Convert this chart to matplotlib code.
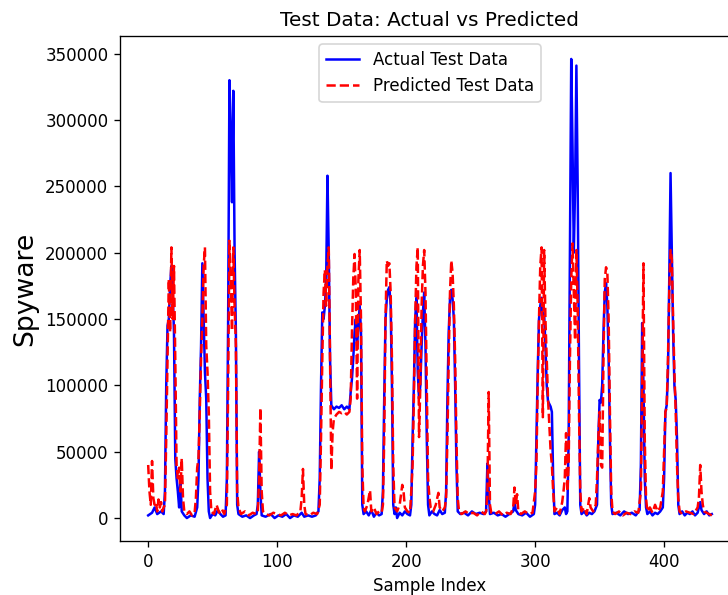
import numpy as np
import matplotlib

matplotlib.use("Agg")
import matplotlib.pyplot as plt

# (sample index, value)
actual_points = [
    (0, 2000), (3, 4000), (5, 8000), (7, 3000), (10, 5000), (12, 3000), (13, 20000), (14, 100000),
    (15, 145000), (16, 150000), (17, 175000), (18, 190000), (19, 170000), (20, 140000), (21, 45000),
    (22, 30000), (23, 20000), (24, 8000), (25, 30000), (26, 5000), (28, 2000), (30, 0), (33, 2000),
    (36, 1000), (38, 8000), (39, 30000), (40, 90000), (41, 130000), (42, 192000), (43, 150000),
    (44, 110000), (45, 90000), (46, 30000), (47, 5000), (48, 0), (50, 3000), (52, 2000), (54, 6000),
    (56, 3000), (58, 1000), (60, 2000), (61, 30000), (62, 150000), (63, 330000), (64, 290000),
    (65, 238000), (66, 322000), (67, 200000), (68, 140000), (69, 10000), (70, 3000), (73, 1000),
    (76, 2000), (79, 0), (82, 2000), (84, 3000), (85, 10000), (86, 50000), (87, 20000), (88, 2000),
    (91, 1000), (95, 3000), (98, 0), (101, 2000), (104, 1000), (107, 3000), (110, 0), (113, 2000),
    (116, 1000), (119, 4000), (121, 1000), (124, 2000), (127, 1000), (130, 2000), (132, 5000),
    (133, 30000), (134, 100000), (135, 155000), (136, 150000), (137, 160000), (138, 180000),
    (139, 258000), (140, 200000), (141, 120000), (142, 85000), (144, 82000), (146, 84000),
    (148, 83000), (150, 85000), (152, 82000), (154, 84000), (156, 82000), (157, 95000),
    (158, 105000), (159, 120000), (160, 140000), (161, 150000), (162, 130000), (163, 145000),
    (164, 160000), (165, 140000), (166, 10000), (167, 3000), (169, 5000), (171, 2000), (173, 6000),
    (175, 1000), (177, 4000), (179, 2000), (181, 3000), (182, 20000), (183, 90000), (184, 150000),
    (185, 165000), (186, 172000), (187, 174000), (188, 160000), (189, 100000), (190, 10000),
    (191, 3000), (192, 8000), (193, 0), (195, 4000), (197, 2000), (199, 5000), (201, 3000),
    (203, 2000), (204, 10000), (205, 60000), (206, 100000), (207, 150000), (208, 166000),
    (209, 110000), (210, 90000), (211, 100000), (212, 130000), (213, 155000), (214, 170000),
    (215, 130000), (216, 60000), (217, 10000), (218, 2000), (220, 5000), (222, 3000), (224, 2000),
    (226, 6000), (228, 3000), (230, 4000), (231, 20000), (232, 90000), (233, 140000), (234, 165000),
    (235, 172000), (236, 165000), (237, 150000), (238, 100000), (239, 40000), (240, 5000),
    (242, 3000), (245, 4000), (248, 2000), (251, 5000), (254, 3000), (257, 4000), (260, 3000),
    (262, 5000), (263, 41000), (264, 20000), (265, 3000), (268, 4000), (271, 2000), (274, 3000),
    (277, 1000), (280, 3000), (283, 5000), (284, 12000), (285, 6000), (287, 3000), (290, 2000),
    (293, 4000), (296, 1000), (299, 3000), (300, 10000), (301, 60000), (302, 110000), (303, 150000),
    (304, 160000), (305, 166000), (306, 150000), (307, 154000), (308, 130000), (309, 100000),
    (310, 88000), (311, 86000), (312, 84000), (313, 80000), (314, 30000), (315, 3000), (317, 4000),
    (319, 2000), (321, 6000), (323, 8000), (324, 3000), (325, 5000), (326, 60000), (327, 200000),
    (328, 346000), (329, 280000), (330, 200000), (331, 250000), (332, 341000), (333, 250000),
    (334, 120000), (335, 10000), (336, 3000), (338, 5000), (340, 2000), (342, 4000), (344, 3000),
    (346, 5000), (348, 10000), (349, 60000), (350, 89000), (351, 87000), (352, 100000),
    (353, 140000), (354, 170000), (355, 177000), (356, 160000), (357, 120000), (358, 60000),
    (359, 10000), (360, 3000), (363, 4000), (366, 2000), (369, 5000), (372, 3000), (375, 4000),
    (378, 2000), (381, 6000), (382, 40000), (383, 147000), (384, 100000), (385, 30000), (386, 8000),
    (387, 3000), (389, 5000), (391, 2000), (393, 4000), (395, 3000), (397, 5000), (399, 8000),
    (400, 30000), (401, 80000), (402, 85000), (403, 110000), (404, 180000), (405, 260000),
    (406, 200000), (407, 140000), (408, 100000), (409, 89000), (410, 60000), (411, 10000),
    (412, 3000), (414, 5000), (416, 2000), (418, 4000), (420, 3000), (422, 5000), (424, 2000),
    (426, 4000), (428, 12000), (429, 6000), (431, 3000), (433, 5000), (435, 2000), (437, 3000),
]

predicted_points = [
    (0, 40000), (1, 20000), (2, 10000), (3, 43000), (4, 15000), (5, 10000), (6, 12000), (7, 5000),
    (8, 14000), (9, 8000), (10, 12000), (11, 5000), (12, 8000), (13, 10000), (14, 60000),
    (15, 120000), (16, 180000), (17, 140000), (18, 204000), (19, 150000), (20, 190000),
    (21, 120000), (22, 40000), (23, 30000), (24, 38000), (25, 20000), (26, 45000), (27, 15000),
    (28, 5000), (30, 3000), (32, 5000), (34, 2000), (36, 4000), (37, 15000), (38, 38000),
    (39, 45000), (40, 80000), (41, 120000), (42, 150000), (43, 190000), (44, 204000), (45, 130000),
    (46, 110000), (47, 79000), (48, 20000), (49, 5000), (51, 3000), (53, 10000), (55, 4000),
    (57, 7000), (59, 3000), (61, 10000), (62, 100000), (63, 209000), (64, 180000), (65, 141000),
    (66, 204000), (67, 160000), (68, 130000), (69, 20000), (70, 8000), (72, 3000), (75, 5000),
    (78, 2000), (81, 4000), (84, 3000), (85, 5000), (86, 30000), (87, 83000), (88, 20000),
    (89, 5000), (91, 3000), (94, 2000), (97, 4000), (100, 3000), (103, 2000), (106, 4000),
    (109, 2000), (112, 3000), (115, 2000), (118, 5000), (119, 15000), (120, 37000), (121, 10000),
    (122, 3000), (125, 2000), (128, 4000), (131, 3000), (133, 10000), (134, 60000), (135, 120000),
    (136, 170000), (137, 187000), (138, 160000), (139, 190000), (140, 204000), (141, 120000),
    (142, 36000), (143, 65000), (144, 75000), (146, 78000), (148, 80000), (150, 79000),
    (152, 80000), (154, 78000), (156, 80000), (157, 90000), (158, 140000), (159, 180000),
    (160, 199000), (161, 170000), (162, 90000), (163, 180000), (164, 202000), (165, 150000),
    (166, 40000), (167, 8000), (168, 5000), (170, 10000), (172, 21000), (173, 5000), (175, 8000),
    (177, 3000), (179, 5000), (181, 4000), (182, 10000), (183, 60000), (184, 150000),
    (185, 194000), (186, 190000), (187, 192000), (188, 170000), (189, 120000), (190, 40000),
    (191, 8000), (193, 5000), (195, 10000), (197, 25000), (198, 20000), (199, 8000), (201, 5000),
    (203, 4000), (204, 20000), (205, 40000), (206, 90000), (207, 150000), (208, 190000),
    (209, 204000), (210, 61000), (211, 100000), (212, 160000), (213, 190000), (214, 202000),
    (215, 170000), (216, 100000), (217, 30000), (218, 16000), (219, 8000), (221, 5000),
    (223, 10000), (225, 19000), (226, 8000), (228, 5000), (230, 8000), (231, 15000), (232, 60000),
    (233, 120000), (234, 170000), (235, 194000), (236, 185000), (237, 160000), (238, 120000),
    (239, 60000), (240, 15000), (241, 5000), (243, 3000), (246, 5000), (249, 3000), (252, 4000),
    (255, 2000), (258, 5000), (261, 3000), (262, 5000), (263, 20000), (264, 95000), (265, 10000),
    (266, 4000), (269, 3000), (272, 5000), (275, 2000), (278, 4000), (281, 3000), (283, 8000),
    (284, 23000), (285, 10000), (286, 18000), (287, 5000), (289, 3000), (292, 5000), (295, 3000),
    (298, 4000), (300, 20000), (301, 40000), (302, 100000), (303, 150000), (304, 190000),
    (305, 204000), (306, 76000), (307, 202000), (308, 150000), (309, 120000), (310, 90000),
    (311, 70000), (312, 51000), (313, 40000), (314, 20000), (315, 5000), (317, 8000), (319, 3000),
    (321, 12000), (322, 20000), (323, 30000), (324, 64000), (325, 20000), (326, 40000),
    (327, 120000), (328, 180000), (329, 207000), (330, 170000), (331, 134000), (332, 202000),
    (333, 160000), (334, 80000), (335, 20000), (336, 5000), (338, 8000), (340, 3000), (342, 15000),
    (343, 8000), (345, 5000), (347, 10000), (348, 30000), (349, 60000), (350, 80000), (351, 40000),
    (352, 38000), (353, 120000), (354, 180000), (355, 189000), (356, 185000), (357, 150000),
    (358, 80000), (359, 20000), (360, 5000), (362, 3000), (365, 5000), (368, 2000), (371, 4000),
    (374, 3000), (377, 5000), (380, 4000), (382, 20000), (383, 100000), (384, 192000),
    (385, 60000), (386, 15000), (387, 5000), (389, 8000), (391, 4000), (393, 10000), (395, 5000),
    (397, 8000), (399, 20000), (400, 50000), (401, 80000), (402, 83000), (403, 120000),
    (404, 170000), (405, 202000), (406, 195000), (407, 150000), (408, 110000), (409, 80000),
    (410, 40000), (411, 15000), (412, 5000), (414, 3000), (417, 5000), (420, 4000), (423, 3000),
    (426, 8000), (427, 15000), (428, 40000), (429, 20000), (430, 10000), (431, 5000), (433, 4000),
    (435, 3000), (437, 2000),
]

actual_x, actual_y = np.array(actual_points).T
pred_x, pred_y = np.array(predicted_points).T

DPI = 120
fig = plt.figure(figsize=(728 / DPI, 595 / DPI), dpi=DPI)
# the reference is cropped on the right, so the axes run past the figure edge
ax = fig.add_axes([120 / 728, 54 / 595, 620 / 728, 505 / 595])

ax.plot(actual_x, actual_y, color="blue", linewidth=1.5, label="Actual Test Data")
ax.plot(pred_x, pred_y, color="red", linestyle="--", linewidth=1.5, label="Predicted Test Data")

ax.set_title("Test Data: Actual vs Predicted")
ax.set_xlabel("Sample Index")
ax.set_ylabel("Spyware", fontsize=16)
ax.legend(loc="upper center")

fig.savefig("out.png", dpi=DPI)
